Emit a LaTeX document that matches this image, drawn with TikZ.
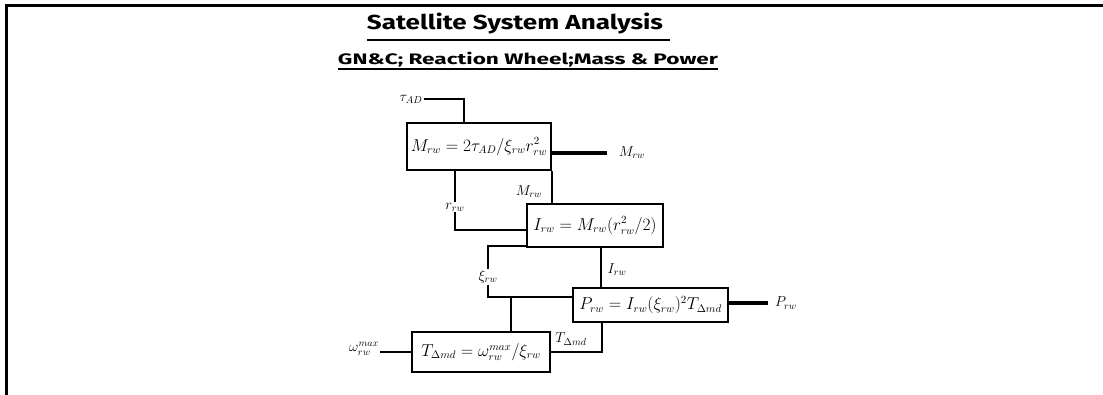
\documentclass[tikz,border=0pt]{standalone}
\usepackage{fontspec}
\usepackage{graphicx}
\usetikzlibrary{calc}
\newfontfamily\titlefont{Fira Sans}
\begin{document}
\begin{tikzpicture}[x=1pt,y=-1pt,
  box/.style={draw, line width=2.2pt, inner sep=0pt, font=\fontsize{16}{19}\selectfont},
  conn/.style={line width=1.7pt},
  outl/.style={line width=3.2pt},
  lab/.style={inner sep=1pt, font=\fontsize{14.5}{16}\selectfont},
  ttl/.style={inner sep=0pt}]
\useasboundingbox (0,0) rectangle (1103,395);
\fill[white] (0,0) rectangle (1103,395);
% frame
\draw[line width=2.2pt] (6.5,395) -- (6.5,5.5) -- (1103,5.5);
% titles
\node[ttl] (title) at (515,23.5) {\resizebox*{296pt}{21pt}{\titlefont\bfseries Satellite System Analysis}};
\draw[line width=2.4pt] (367,40) -- (670,40);
\node[ttl] (sub) at (528,59.5) {\resizebox*{380pt}{15pt}{\titlefont\bfseries GN\&C; Reaction Wheel;Mass \& Power}};
\draw[line width=2.2pt] (338,69) -- (718,69);
% boxes
\node[box, minimum width=144pt, minimum height=47pt] (b1) at (479,146.5) {$M_{rw} = 2\tau_{AD}/\xi_{rw} r_{rw}^2$};
\node[box, minimum width=136pt, minimum height=43pt] (b2) at (595,225.5) {$I_{rw} = M_{rw}(r_{rw}^2/2)$};
\node[box, minimum width=155pt, minimum height=34pt] (b3) at (650.5,305) {$P_{rw} = I_{rw}(\xi_{rw})^2 T_{\Delta md}$};
\node[box, minimum width=138pt, minimum height=40pt] (b4) at (481,352) {$T_{\Delta md} = \omega_{rw}^{max}/\xi_{rw}$};
% labels
\node[lab] (tau) at (411,99) {$\tau_{AD}$};
\node[lab] (Mout) at (632,153) {$M_{rw}$};
\node[lab] (Mlab) at (529,192) {$M_{rw}$};
\node[lab] (rlab) at (455,207) {$r_{rw}$};
\node[lab] (xlab) at (488,277) {$\xi_{rw}$};
\node[lab] (Ilab) at (617,270) {$I_{rw}$};
\node[lab] (Pout) at (786,303) {$P_{rw}$};
\node[lab] (wlab) at (364,349) {$\omega^{max}_{rw}$};
\node[lab] (Tlab) at (571,339) {$T_{\Delta md}$};
% helper coordinates
\coordinate (tauin) at ($(b1.north west)+(58,0)$);
\coordinate (rin) at ($(b2.south west)+(0,-18)$);
\coordinate (xout) at ($(b2.south west)+(0,-2)$);
\coordinate (xin) at ($(b3.north west)+(0,10)$);
\coordinate (wtop) at ($(b4.north west)+(100,-34)$);
\coordinate (win) at ($(b4.north west)+(100,0)$);
\coordinate (Itop) at ($(b2.south west)+(75,0)$);
\coordinate (Tin) at ($(b3.south west)+(30,0)$);
% connectors
\draw[conn] (tau.east) -| (tauin);
\draw[outl, shorten >=11pt] (b1.east |- Mout) -- (Mout.west);
\draw[conn] (b1.south -| rlab) -- (rlab.north);
\draw[conn] (rlab.south) |- (rin);
\draw[conn] (b1.south east) -- (b1.south east |- b2.north);
\draw[conn] (xout) -| (xlab.north);
\draw[conn] (xlab.south) |- (xin);
\draw[conn] (wtop) -- (win);
\draw[conn] (Itop) -- (Itop |- b3.north);
\draw[outl, shorten >=6pt] (b3.east |- Pout) -- (Pout.west);
\draw[conn] (b4.west -| wlab.east) -- (b4.west);
\draw[conn] (b4.east) -| (Tin);
\end{tikzpicture}
\end{document}
